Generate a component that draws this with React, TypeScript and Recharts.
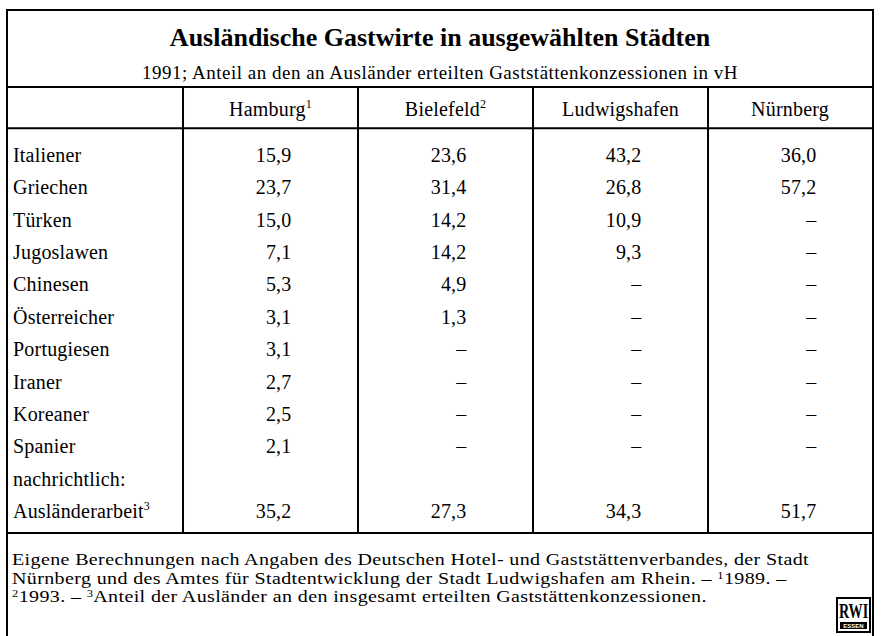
import { ScatterChart, Scatter, XAxis, YAxis, ReferenceLine } from "recharts";

// Tabelle: Ausländische Gastwirte in ausgewählten Städten (1991, Anteil in vH)
const CITIES = ["Hamburg", "Bielefeld", "Ludwigshafen", "Nürnberg"];
const CITY_NOTES = ["1", "2", "", ""];

const NATIONALITIES = [
    "Italiener",
    "Griechen",
    "Türken",
    "Jugoslawen",
    "Chinesen",
    "Österreicher",
    "Portugiesen",
    "Iraner",
    "Koreaner",
    "Spanier",
];

// null = "–" (keine Angabe)
const HAMBURG = [15.9, 23.7, 15.0, 7.1, 5.3, 3.1, 3.1, 2.7, 2.5, 2.1];
const BIELEFELD = [23.6, 31.4, 14.2, 14.2, 4.9, 1.3, null, null, null, null];
const LUDWIGSHAFEN = [43.2, 26.8, 10.9, 9.3, null, null, null, null, null, null];
const NUERNBERG = [36.0, 57.2, null, null, null, null, null, null, null, null];

const MEMO_LABEL = "nachrichtlich:";
const TOTAL_LABEL = "Ausländerarbeit";
const TOTAL_NOTE = "3";
const AUSLAENDERARBEIT = [35.2, 27.3, 34.3, 51.7];

const TITLE = "Ausländische Gastwirte in ausgewählten Städten";
const SUBTITLE =
    "1991; Anteil an den an Ausländer erteilten Gaststättenkonzessionen in vH";

const FONT = '"Liberation Serif", "Times New Roman", serif';

// table layout in axis units (one unit = one column / one row)
const X_MAX = 4.937;
const Y_DOMAIN: [number, number] = [-2.07, 11.65];
const HEADER_ROW = -1.42;
const HEADER_RULE = -0.83;
const VALUE_X = 0.62;

const fmt = (v: number | null) =>
    v === null ? "–" : v.toFixed(1).replace(".", ",");

type Cell = {
    x: number;
    y: number;
    text: string;
    note?: string;
    kind: "label" | "value" | "header";
};

const cells: Cell[] = [];
CITIES.forEach((c, i) =>
    cells.push({
        x: (i + 1 + Math.min(i + 2, X_MAX)) / 2,
        y: HEADER_ROW,
        text: c,
        note: CITY_NOTES[i],
        kind: "header",
    })
);
NATIONALITIES.forEach((n, r) => cells.push({ x: 0, y: r, text: n, kind: "label" }));
cells.push({ x: 0, y: NATIONALITIES.length, text: MEMO_LABEL, kind: "label" });
cells.push({
    x: 0,
    y: NATIONALITIES.length + 1,
    text: TOTAL_LABEL,
    note: TOTAL_NOTE,
    kind: "label",
});
[HAMBURG, BIELEFELD, LUDWIGSHAFEN, NUERNBERG].forEach((series, i) => {
    series.forEach((v, r) =>
        cells.push({ x: i + 1 + VALUE_X, y: r, text: fmt(v), kind: "value" })
    );
    cells.push({
        x: i + 1 + VALUE_X,
        y: NATIONALITIES.length + 1,
        text: fmt(AUSLAENDERARBEIT[i]),
        kind: "value",
    });
});

const CellText = (props: any) => {
    const { cx, cy, payload } = props;
    const anchor =
        payload.kind === "label" ? "start" : payload.kind === "header" ? "middle" : "end";
    return (
        <text
            x={cx + (payload.kind === "label" ? 5 : 0)}
            y={cy}
            dy="0.35em"
            textAnchor={anchor}
            fontFamily={FONT}
            fontSize={20}
            letterSpacing={0.2}
            fill="#000"
        >
            {payload.text}
            {payload.note ? (
                <tspan dy={-8} fontSize={12}>
                    {payload.note}
                </tspan>
            ) : null}
        </text>
    );
};

const sup = (n: string) => (
    <span style={{ fontSize: 10, lineHeight: "10px", verticalAlign: "5px" }}>{n}</span>
);

// the scanned footnote face is wide and tightly set
const footLine = {
    height: 18.5,
    lineHeight: "18.5px",
    whiteSpace: "nowrap" as const,
    transform: "scaleX(1.25)",
    transformOrigin: "0 0",
};

const RwiLogo = () => (
    <svg
        width={35}
        height={36}
        style={{ position: "absolute", left: 828, top: 586 }}
    >
        <rect x={1} y={1} width={33} height={34} fill="#fff" stroke="#000" strokeWidth={2} />
        <text
            transform="translate(17.5,21) scale(0.64,1)"
            textAnchor="middle"
            fontFamily={FONT}
            fontWeight="bold"
            fontSize={22}
        >
            RWI
        </text>
        <rect x={4} y={25} width={27} height={7} fill="#000" />
        <text
            x={17.5}
            y={31}
            textAnchor="middle"
            fontFamily="Arial, sans-serif"
            fontWeight="bold"
            fontSize={6}
            fill="#fff"
        >
            ESSEN
        </text>
    </svg>
);

export default function App() {
    return (
        <div
            style={{
                position: "absolute",
                left: 0,
                top: 0,
                width: 881,
                height: 636,
                overflow: "hidden",
                background: "#fff",
            }}
        >
            <div
                style={{
                    position: "absolute",
                    left: 6,
                    top: 9,
                    width: 868,
                    height: 700,
                    boxSizing: "border-box",
                    border: "2px solid #000",
                    fontFamily: FONT,
                    color: "#000",
                }}
            >
                <div
                    style={{
                        position: "relative",
                        height: 75,
                        borderBottom: "2px solid #000",
                    }}
                >
                    <div
                        style={{
                            position: "absolute",
                            top: 12,
                            width: "100%",
                            textAlign: "center",
                            fontWeight: "bold",
                            fontSize: 26,
                            lineHeight: "30px",
                        }}
                    >
                        {TITLE}
                    </div>
                    <div
                        style={{
                            position: "absolute",
                            top: 51,
                            width: "100%",
                            textAlign: "center",
                            fontSize: 19,
                            letterSpacing: 0.5,
                            lineHeight: "22px",
                        }}
                    >
                        {SUBTITLE}
                    </div>
                </div>

                <ScatterChart
                    width={864}
                    height={444}
                    margin={{ top: 0, right: 0, bottom: 0, left: 0 }}
                >
                    <XAxis type="number" dataKey="x" domain={[0, X_MAX]} hide />
                    <YAxis type="number" dataKey="y" domain={Y_DOMAIN} reversed hide />
                    {[1, 2, 3, 4].map((x) => (
                        <ReferenceLine key={x} x={x} stroke="#000" strokeWidth={2} />
                    ))}
                    <ReferenceLine y={HEADER_RULE} stroke="#000" strokeWidth={2} />
                    <Scatter
                        data={cells}
                        shape={(p: any) => <CellText {...p} />}
                        isAnimationActive={false}
                    />
                </ScatterChart>

                <div
                    style={{
                        borderTop: "2px solid #000",
                        padding: "17px 0 0 4px",
                        fontSize: 16,
                        letterSpacing: 0.3,
                        position: "relative",
                    }}
                >
                    <div style={footLine}>
                        Eigene Berechnungen nach Angaben des Deutschen Hotel- und
                        Gaststättenverbandes, der Stadt
                    </div>
                    <div style={footLine}>
                        Nürnberg und des Amtes für Stadtentwicklung der Stadt Ludwigshafen
                        am Rhein. – {sup("1")}1989. –
                    </div>
                    <div style={footLine}>
                        {sup("2")}1993. – {sup("3")}Anteil der Ausländer an den insgesamt
                        erteilten Gaststättenkonzessionen.
                    </div>
                </div>
                <RwiLogo />
            </div>
        </div>
    );
}
